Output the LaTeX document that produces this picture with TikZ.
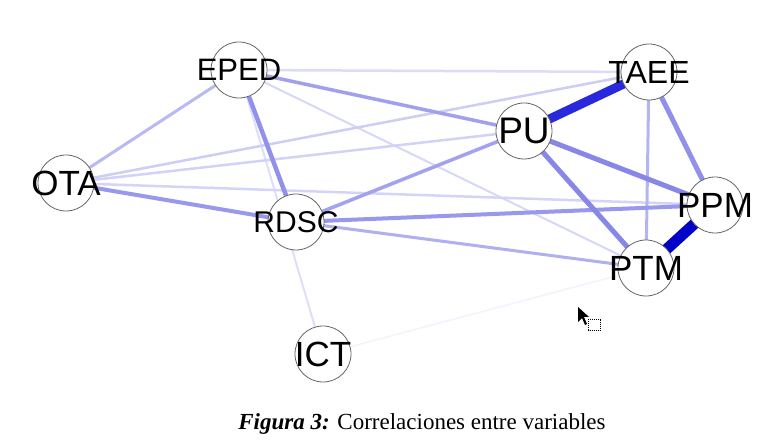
\documentclass[tikz,border=0pt]{standalone}
\usepackage{fontspec}
\setmainfont{Liberation Serif}
\newfontfamily\labfont{Liberation Sans}
\pgfdeclarelayer{bg}
\pgfsetlayers{bg,main}
\begin{document}
\begin{tikzpicture}[x=1pt,y=-1pt,
  vnode/.style={circle,draw=black!60,line width=0.8pt,fill=white,minimum size=56pt,inner sep=0pt},
  lab/.style={font=\labfont\fontsize{#1}{#1}\selectfont,inner sep=0pt},
  ed/.style n args={3}{line width=#1pt,color={rgb,255:red,#2;green,#2;blue,#3}}]
\useasboundingbox (0,0) rectangle (772,446);

\node[vnode,label={[lab=31]center:EPED}] (EPED) at (239,70) {};
\node[vnode,label={[lab=32]center:TAEE}] (TAEE) at (649,72) {};
\node[vnode,label={[lab=37]center:PU}] (PU) at (524,131) {};
\node[vnode,label={[lab=35]center:OTA}] (OTA) at (66,183) {};
\node[vnode,label={[lab=30]center:RDSC}] (RDSC) at (296,222) {};
\node[vnode,label={[lab=35]center:PPM}] (PPM) at (715,205) {};
\node[vnode,label={[lab=35]center:PTM}] (PTM) at (646,268) {};
\node[vnode,label={[lab=35]center:ICT}] (ICT) at (323,354) {};

\begin{pgfonlayer}{bg}
\fill[white] (0,0) rectangle (772,446);
\draw[ed={1.5}{243}{253}] (ICT.center) -- (PTM.center);
\draw[ed={2}{222}{250}] (EPED.center) -- (ICT.center);
\draw[ed={2}{215}{249}] (EPED.center) -- (PTM.center);
\draw[ed={2.5}{220}{250}] (EPED.center) -- (TAEE.center);
\draw[ed={2.5}{212}{248}] (OTA.center) -- (PPM.center);
\draw[ed={2.5}{210}{248}] (OTA.center) -- (PU.center);
\draw[ed={2.5}{205}{246}] (OTA.center) -- (TAEE.center);
\draw[ed={3}{185}{243}] (EPED.center) -- (OTA.center);
\draw[ed={3}{175}{241}] (RDSC.center) -- (PTM.center);
\draw[ed={3}{180}{242}] (TAEE.center) -- (PTM.center);
\draw[ed={3.5}{160}{238}] (EPED.center) -- (PU.center);
\draw[ed={3.5}{162}{238}] (RDSC.center) -- (PU.center);
\draw[ed={4}{152}{236}] (RDSC.center) -- (PPM.center);
\draw[ed={4}{152}{236}] (OTA.center) -- (RDSC.center);
\draw[ed={4.5}{145}{235}] (EPED.center) -- (RDSC.center);
\draw[ed={5}{145}{235}] (TAEE.center) -- (PPM.center);
\draw[ed={5}{135}{232}] (PU.center) -- (PTM.center);
\draw[ed={5}{135}{232}] (PU.center) -- (PPM.center);
\draw[ed={9}{40}{220}] (TAEE.center) -- (PU.center);
\draw[ed={11}{0}{200}] (PPM.center) -- (PTM.center);
\end{pgfonlayer}

% cursor
\fill[black] (578,307) -- (578,322) -- (582,318) -- (585,325) -- (587,324) -- (584,317) -- (589,317) -- cycle;
\draw[densely dotted,line width=1pt] (588.5,319.5) rectangle (600.5,330.5);

\node[font=\fontsize{23}{23}\selectfont] (cap) at (422,424) {\textbf{\textit{Figura 3:}} Correlaciones entre variables};
\end{tikzpicture}
\end{document}
